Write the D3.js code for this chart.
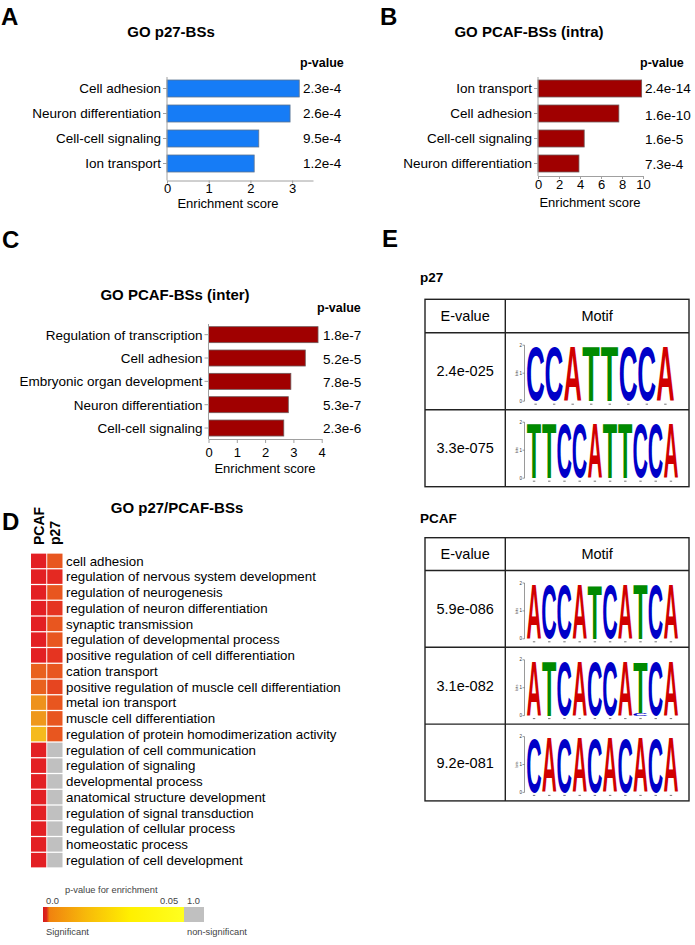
<!DOCTYPE html>
<html><head><meta charset="utf-8">
<script src="https://cdn.jsdelivr.net/npm/d3@7"></script>
<style>
body{margin:0;background:#fff}
svg{display:block}
text{font-family:"Liberation Sans",Arial,Helvetica,sans-serif}
</style>
</head><body>
<svg id="fig" width="695" height="945"></svg>
<script>
// ---------------- DATA ----------------
const aCategories = ["Cell adhesion","Neuron differentiation","Cell-cell signaling","Ion transport"];
const aScores = [3.17, 2.95, 2.20, 2.09];
const aPvalues = ["2.3e-4","2.6e-4","9.5e-4","1.2e-4"];
const aTicks = [0,1,2,3];

const bCategories = ["Ion transport","Cell adhesion","Cell-cell signaling","Neuron differentiation"];
const bScores = [9.87, 7.70, 4.40, 3.90];
const bPvalues = ["2.4e-14","1.6e-10","1.6e-5","7.3e-4"];
const bTicks = [0,2,4,6,8,10];

const cCategories = ["Regulation of transcription","Cell adhesion","Embryonic organ development","Neuron differentiation","Cell-cell signaling"];
const cScores = [3.87, 3.42, 2.91, 2.82, 2.66];
const cPvalues = ["1.8e-7","5.2e-5","7.8e-5","5.3e-7","2.3e-6"];
const cTicks = [0,1,2,3,4];

const dTerms = ["cell adhesion","regulation of nervous system development","regulation of neurogenesis",
  "regulation of neuron differentiation","synaptic transmission","regulation of developmental process",
  "positive regulation of cell differentiation","cation transport","positive regulation of muscle cell differentiation",
  "metal ion transport","muscle cell differentiation","regulation of protein homodimerization activity",
  "regulation of cell communication","regulation of signaling","developmental process",
  "anatomical structure development","regulation of signal transduction","regulation of cellular process",
  "homeostatic process","regulation of cell development"];
const dColumns = ["PCAF","p27"];
const dPvalPCAF = [0.0001,0.0001,0.0001,0.0001,0.0001,0.0001,0.0001,0.012,0.012,0.021,0.023,0.034,
  0.0001,0.0001,0.0001,0.0001,0.0001,0.0001,0.0001,0.0001];
const dPvalP27 = [0.010,0.002,0.010,0.004,0.010,0.010,0.004,0.010,0.007,0.010,0.010,0.010,1,1,1,1,1,1,1,1];
const legendLabels = ["0.0","0.05","1.0"];

const p27Evalues = ["2.4e-025","3.3e-075"];
const p27Motifs = ["CCATTCCA","TTCCATTCCA"];
const p27Bits = [[1.95,1.95,1.95,1.96,1.96,1.95,1.95,1.95],
                 [1.94,1.94,1.94,1.94,1.95,1.95,1.95,1.95,1.95,1.95]];
const pcafEvalues = ["5.9e-086","3.1e-082","9.2e-081"];
const pcafMotifs = ["ACCATCATCA","ATCACCATCA","CACACACACA"];
const pcafBits = [[1.95,1.95,1.95,1.95,1.9,1.95,1.95,1.93,1.95,1.95],
                  [1.95,1.93,1.95,1.95,1.95,1.95,1.95,1.8,1.95,1.95],
                  [1.95,1.95,1.95,1.95,1.95,1.95,1.95,1.95,1.95,1.95]];
const pcafMinor = [[],[[7,"C",0.1]],[]];   // [position, letter, bits] stacked under main letter

// ---------------- SETUP ----------------
const svg = d3.select("#fig");
svg.append("rect").attr("width",695).attr("height",945).attr("fill","#fff");

function panelLetter(t,x,y){
  svg.append("text").attr("x",x).attr("y",y).text(t)
    .attr("font-size",24).attr("font-weight","bold").attr("fill","#000");
}
panelLetter("A",1,25); panelLetter("B",380,25); panelLetter("C",2,248);
panelLetter("D",2,530); panelLetter("E",382,247);

function barPanel(c){
  const g = svg.append("g");
  const x = d3.scaleLinear().domain([0,c.max]).range([c.x0,c.x1]);
  const y = d3.scaleBand().domain(c.cats).range([c.y0,c.y1]).paddingInner(c.pad).paddingOuter(c.pad/2);
  g.append("text").attr("x",c.titleX).attr("y",c.titleY).attr("text-anchor","middle")
    .attr("font-size",15).attr("font-weight","bold").text(c.title);
  g.append("text").attr("x",c.pvHeadX).attr("y",c.pvHeadY)
    .attr("font-size",12.5).attr("font-weight","bold").text("p-value");
  g.selectAll("rect.bar").data(c.cats).join("rect").attr("class","bar")
    .attr("x",x(0)).attr("y",d=>y(d))
    .attr("width",(d,i)=>x(c.scores[i])-x(0)).attr("height",y.bandwidth())
    .attr("fill",c.fill).attr("stroke",c.stroke).attr("stroke-width",0.8);
  g.append("line").attr("x1",x(0)).attr("x2",x(0)).attr("y1",c.y0+1).attr("y2",c.axisY)
    .attr("stroke","#a0a0a0").attr("stroke-width",1);
  g.selectAll("line.ct").data(c.cats).join("line").attr("class","ct")
    .attr("x1",x(0)-4).attr("x2",x(0)).attr("y1",d=>y(d)+y.bandwidth()/2).attr("y2",d=>y(d)+y.bandwidth()/2)
    .attr("stroke","#a0a0a0");
  g.selectAll("text.cat").data(c.cats).join("text").attr("class","cat")
    .attr("x",x(0)-6).attr("y",d=>y(d)+y.bandwidth()/2).attr("dy","0.36em")
    .attr("text-anchor","end").attr("font-size",13.5).text(d=>d);
  g.selectAll("text.pv").data(c.pv).join("text").attr("class","pv")
    .attr("x",c.pvX).attr("y",(d,i)=>y(c.cats[i])+y.bandwidth()/2+(c.pvShift?c.pvShift[i]:0)).attr("dy","0.36em")
    .attr("font-size",13.5).text(d=>d);
  const ax = g.append("g").attr("transform",`translate(0,${c.axisY})`)
    .call(d3.axisBottom(x).tickValues(c.ticks).tickFormat(d3.format("d"))
      .tickSize(c.tickSize).tickSizeOuter(0).tickPadding(c.tickPad));
  ax.select(".domain").attr("stroke","#a0a0a0");
  ax.selectAll(".tick line").attr("stroke","#a0a0a0");
  ax.selectAll(".tick text").attr("font-size",13).attr("fill","#000")
    .attr("font-family",'"Liberation Sans",Arial,sans-serif');
  g.append("text").attr("x",c.axTitleX).attr("y",c.axTitleY).attr("text-anchor","middle")
    .attr("font-size",13).text("Enrichment score");
}

barPanel({cats:aCategories,scores:aScores,pv:aPvalues,ticks:aTicks,max:3.5,x0:167,x1:313,
  y0:76,y1:176,pad:0.32,axisY:180.5,tickSize:3,tickPad:0,fill:"#167cf6",stroke:"#5d7490",
  title:"GO p27-BSs",titleX:171,titleY:36.5,pvHeadX:300,pvHeadY:66.5,pvX:303,
  axTitleX:228,axTitleY:208});
barPanel({cats:bCategories,scores:bScores,pv:bPvalues,ticks:bTicks,max:10,x0:538,x1:643,
  y0:76,y1:176,pad:0.32,axisY:176,tickSize:3,tickPad:1,fill:"#a00000",stroke:"#6e5a5a",
  title:"GO PCAF-BSs (intra)",titleX:529,titleY:37,pvHeadX:640,pvHeadY:67,pvX:645,
  pvShift:[0,2,1,1],axTitleX:590,axTitleY:207});
barPanel({cats:cCategories,scores:cScores,pv:cPvalues,ticks:cTicks,max:4,x0:208.5,x1:321.7,
  y0:323,y1:439.7,pad:0.314,axisY:439,tickSize:4,tickPad:5,fill:"#a00000",stroke:"#6e5a5a",
  title:"GO PCAF-BSs (inter)",titleX:175,titleY:300,pvHeadX:317,pvHeadY:311.5,pvX:323,
  pvShift:[0,1,1,0,0],axTitleX:265,axTitleY:473});

// ---------------- PANEL D HEATMAP ----------------
const color = d3.scaleLinear()
  .domain([0,0.005,0.01,0.02,0.035,0.05])
  .range(["#e31e23","#e53a20","#e8561f","#ee8f1c","#f5bd1d","#ffff00"])
  .clamp(true);
const cellColor = p => p > 0.05 ? "#c0c0c0" : color(p);
const dg = svg.append("g");
dg.append("text").attr("x",177).attr("y",513).attr("text-anchor","middle")
  .attr("font-size",15).attr("font-weight","bold").text("GO p27/PCAF-BSs");
const hx = d3.scaleBand().domain(dColumns).range([31,62.5]).paddingInner(0.06);
const hy = d3.scaleBand().domain(dTerms).range([553,868]).paddingInner(0.08).paddingOuter(0.04);
const colVals = {PCAF:dPvalPCAF, p27:dPvalP27};
dColumns.forEach(col=>{
  dg.selectAll(null).data(dTerms).join("rect")
    .attr("x",hx(col)).attr("y",d=>hy(d)).attr("width",hx.bandwidth()).attr("height",hy.bandwidth())
    .attr("fill",(d,i)=>cellColor(colVals[col][i]));
});
dg.selectAll("text.term").data(dTerms).join("text").attr("class","term")
  .attr("x",66).attr("y",d=>hy(d)+hy.bandwidth()/2).attr("dy","0.35em")
  .attr("font-size",13.3).text(d=>d);
dg.selectAll("text.colh").data(dColumns).join("text").attr("class","colh")
  .attr("transform",d=>`translate(${hx(d)+hx.bandwidth()/2+5},545) rotate(-90)`)
  .attr("font-size",14).attr("font-weight","bold").text(d=>d);

// legend
const defs = svg.append("defs");
const grad = defs.append("linearGradient").attr("id","lg");
[[0,"#d7191c"],[0.025,"#dd2a1a"],[0.045,"#f0820f"],[0.3,"#f7b80a"],[0.62,"#fff000"],[1,"#ffff20"]]
  .forEach(s=>grad.append("stop").attr("offset",s[0]).attr("stop-color",s[1]));
const lg = svg.append("g");
lg.append("rect").attr("x",43).attr("y",907).attr("width",141).attr("height",15).attr("fill","url(#lg)");
lg.append("rect").attr("x",184).attr("y",907).attr("width",20).attr("height",15).attr("fill","#c0c0c0");
function legText(t,x,y){
  lg.append("text").attr("x",x).attr("y",y).attr("font-size",9.3)
    .attr("font-family","DejaVu Sans").attr("fill","#444").text(t);
}
legText("p-value for enrichment",65,893);
const legX = [46,160,187];
legendLabels.forEach((t,i)=>legText(t,legX[i],904));
legText("Significant",46,935);
legText("non-significant",187,935);

// ---------------- PANEL E MOTIFS ----------------
const mctx = document.createElement("canvas").getContext("2d");
mctx.font = 'bold 100px "Liberation Sans"';
const letterColor = {A:"#d10000",C:"#0000c8",T:"#008a00",G:"#ffb300"};
function drawLetter(g,ch,x,yTop,w,h){
  if(h<=0) return;
  const m = mctx.measureText(ch);
  const gw = m.actualBoundingBoxLeft + m.actualBoundingBoxRight;
  const gh = m.actualBoundingBoxAscent + m.actualBoundingBoxDescent;
  g.append("text").text(ch).attr("font-size",100).attr("font-weight","bold")
    .attr("fill",letterColor[ch])
    .attr("transform",`translate(${x},${yTop}) scale(${w/gw},${h/gh}) translate(${m.actualBoundingBoxLeft},${m.actualBoundingBoxAscent})`);
}
function drawLogo(g,seq,bits,minor,rowTop,rowBottom){
  const n = seq.length;
  const y = d3.scaleLinear().domain([0,2]).range([rowBottom-8.5,rowTop+12.5]);
  const xb = d3.scaleBand().domain(d3.range(n)).range([527, n===8?674:678]).paddingInner(0.07);
  const ax = 524.5;
  g.append("line").attr("x1",ax).attr("x2",ax).attr("y1",y(0)).attr("y2",y(2)).attr("stroke","#555").attr("stroke-width",0.6);
  [0,1,2].forEach(v=>{
    g.append("line").attr("x1",ax-2).attr("x2",ax).attr("y1",y(v)).attr("y2",y(v)).attr("stroke","#555").attr("stroke-width",0.6);
    g.append("text").attr("x",ax-2.5).attr("y",y(v)+1.5).attr("text-anchor","end").attr("font-size",4.5).attr("fill","#333").text(v);
  });
  g.append("text").attr("transform",`translate(${ax-6.5},${y(1)}) rotate(-90)`).attr("text-anchor","middle")
    .attr("font-size",4).attr("fill","#333").text("bits");
  for(let i=0;i<n;i++){
    let base = 0;
    minor.filter(mn=>mn[0]===i).forEach(mn=>{
      drawLetter(g,mn[1],xb(i),y(base+mn[2]),xb.bandwidth(),y(base)-y(base+mn[2]));
      base += mn[2];
    });
    drawLetter(g,seq[i],xb(i),y(base+bits[i]),xb.bandwidth(),y(base)-y(base+bits[i]));
    // tiny position marks under each column
    g.append("line").attr("x1",xb(i)+xb.bandwidth()/2-1.2).attr("x2",xb(i)+xb.bandwidth()/2+1.2)
      .attr("y1",y(0)+3).attr("y2",y(0)+3).attr("stroke","#777").attr("stroke-width",1);
  }
}
function motifTable(label,labelY,top,headerBottom,rowH,evals,motifs,bitsArr,minorArr){
  const g = svg.append("g");
  g.append("text").attr("x",420).attr("y",labelY).attr("font-size",13.5).attr("font-weight","bold").text(label);
  const x0=425,x1=689,xm=505.3;
  const rows = d3.range(evals.length);
  const ry = i => headerBottom + i*rowH;
  const bottom = ry(evals.length);
  rows.forEach(i=>drawLogo(g,motifs[i],bitsArr[i],minorArr[i],ry(i),ry(i)+rowH));
  const st = "#222";
  g.append("rect").attr("x",x0).attr("y",top).attr("width",x1-x0).attr("height",bottom-top)
    .attr("fill","none").attr("stroke",st).attr("stroke-width",1.4);
  g.append("line").attr("x1",xm).attr("x2",xm).attr("y1",top).attr("y2",bottom).attr("stroke",st).attr("stroke-width",1.4);
  rows.forEach(i=>g.append("line").attr("x1",x0).attr("x2",x1).attr("y1",ry(i)).attr("y2",ry(i)).attr("stroke",st).attr("stroke-width",1.4));
  g.append("text").attr("x",(x0+xm)/2).attr("y",(top+headerBottom)/2).attr("dy","0.36em")
    .attr("text-anchor","middle").attr("font-size",14.5).text("E-value");
  g.append("text").attr("x",(xm+x1)/2).attr("y",(top+headerBottom)/2).attr("dy","0.36em")
    .attr("text-anchor","middle").attr("font-size",14.5).text("Motif");
  g.selectAll("text.ev").data(evals).join("text").attr("class","ev")
    .attr("x",(x0+xm)/2).attr("y",(d,i)=>ry(i)+rowH/2).attr("dy","0.36em")
    .attr("text-anchor","middle").attr("font-size",14.5).text(d=>d);
}
motifTable("p27",282,299.3,332.7,77,p27Evalues,p27Motifs,p27Bits,[[],[]]);
motifTable("PCAF",522.7,537.7,570.5,76.8,pcafEvalues,pcafMotifs,pcafBits,pcafMinor);
</script>
</body></html>
